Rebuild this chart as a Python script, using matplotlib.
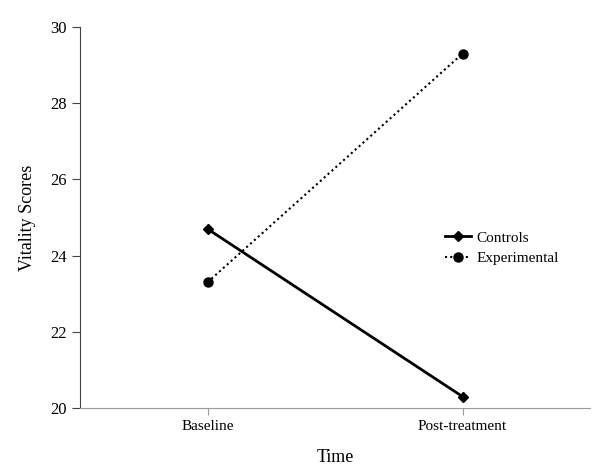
import matplotlib
matplotlib.use("Agg")
import matplotlib.pyplot as plt

times = ["Baseline", "Post-treatment"]
controls = [24.7, 20.3]
experimental = [23.3, 29.3]
y_ticks = [20, 22, 24, 26, 28, 30]

plt.rcParams['font.family'] = ['Liberation Serif', 'DejaVu Serif']

fig = plt.figure(figsize=(6.08, 4.72), dpi=100)
ax = fig.add_axes([0.1316, 0.1356, 0.8388, 0.8072])

x = [0.5, 1.5]
ax.plot(x, controls, color="black", linewidth=2, marker="D", markersize=5,
        label="Controls")
ax.plot(x, experimental, color="black", linewidth=1.5, linestyle=(0, (1, 1.5)),
        marker="o", markersize=6.5, label="Experimental")

ax.set_xlim(0, 2)
ax.set_ylim(20, 30)
ax.set_xticks(x)
ax.set_xticklabels(times, fontsize=11)
ax.set_yticks(y_ticks)
ax.tick_params(axis="y", labelsize=12, direction="out", length=6, color="#444444")
ax.tick_params(axis="x", direction="out", length=5, color="#999999")

for s in ["top", "right"]:
    ax.spines[s].set_visible(False)
ax.spines["left"].set_color("#444444")
ax.spines["bottom"].set_color("#999999")

ax.set_xlabel("Time", fontsize=13, labelpad=12)
ax.set_ylabel("Vitality Scores", fontsize=13, labelpad=10)

ax.legend(loc="center left", bbox_to_anchor=(0.688, 0.42), frameon=False,
          fontsize=11, handlelength=1.7, handletextpad=0.4, labelspacing=0.45)

fig.savefig("out.png", dpi=100)
